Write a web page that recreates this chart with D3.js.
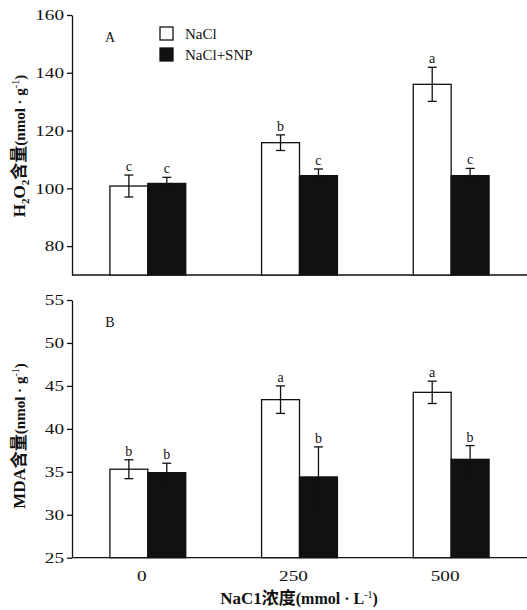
<!DOCTYPE html>
<html><head><meta charset="utf-8">
<script src="https://cdn.jsdelivr.net/npm/d3@7"></script>
<style>
body{margin:0;background:#fff;}
text{font-family:"Liberation Serif","DejaVu Serif",serif;fill:#111;}
</style></head>
<body><svg id="c" width="527" height="610"></svg>
<script>
const categories = ["0","250","500"];
const series = ["NaCl","NaCl+SNP"];
// Panel A: H2O2
const h2o2NaCl = [100.8, 115.8, 136.0];
const h2o2NaClErr = [3.8, 2.7, 5.9];
const h2o2SNP = [101.7, 104.4, 104.4];
const h2o2SNPErr = [2.1, 2.3, 2.5];
const h2o2NaClLetters = ["c","b","a"];
const h2o2SNPLetters = ["c","c","c"];
const h2o2Ticks = [80,100,120,140,160];
// Panel B: MDA
const mdaNaCl = [35.3, 43.4, 44.25];
const mdaNaClErr = [1.1, 1.6, 1.3];
const mdaSNP = [34.9, 34.4, 36.45];
const mdaSNPErr = [1.1, 3.5, 1.6];
const mdaNaClLetters = ["b","a","a"];
const mdaSNPLetters = ["b","b","b"];
const mdaTicks = [25,30,35,40,45,50,55];

const svg = d3.select("#c");
const x0 = d3.scaleBand().domain(categories).range([72,527]).paddingInner(0.5).paddingOuter(0.25);
const x1 = d3.scaleBand().domain(series).range([0, x0.bandwidth()]);

function panel(opts){
  const y = d3.scaleLinear().domain(opts.domain).range(opts.range);
  const g = svg.append("g");
  const ax = g.append("g").attr("transform","translate(72,0)")
    .call(d3.axisLeft(y).tickValues(opts.ticks).tickSize(5).tickPadding(3).tickSizeOuter(0));
  ax.select(".domain").attr("stroke","#111").attr("stroke-width",1.3);
  ax.selectAll(".tick line").attr("stroke","#111").attr("stroke-width",1.3);
  ax.selectAll(".tick text").attr("font-size",15).attr("fill","#111")
    .attr("font-family","Liberation Serif, serif")
    .each(function(d){ const s=String(d); d3.select(this).attr("textLength", s.length*9.6).attr("lengthAdjust","spacingAndGlyphs"); });
  g.append("line").attr("x1",72).attr("x2",527).attr("y1",y(opts.domain[0])).attr("y2",y(opts.domain[0]))
    .attr("stroke","#111").attr("stroke-width",1.3);
  const data = [];
  categories.forEach((c,i)=>{
    data.push({c, s:series[0], v:opts.a[i], e:opts.ae[i], l:opts.al[i]});
    data.push({c, s:series[1], v:opts.b[i], e:opts.be[i], l:opts.bl[i]});
  });
  const grp = g.selectAll("g.bar").data(data).enter().append("g")
    .attr("transform", d=>`translate(${x0(d.c)+x1(d.s)},0)`);
  const w = x1.bandwidth();
  const base = y(opts.domain[0]);
  grp.append("rect").attr("x",0).attr("width",w).attr("y",d=>y(d.v)).attr("height",d=>base-y(d.v))
    .attr("fill",d=>d.s===series[0]?"#fff":"#111").attr("stroke","#111").attr("stroke-width",1.3);
  grp.append("line").attr("x1",w/2).attr("x2",w/2).attr("y1",d=>y(d.v+d.e)).attr("y2",d=>y(d.v-d.e))
    .attr("stroke","#111").attr("stroke-width",1.3);
  grp.append("line").attr("x1",w/2-4.5).attr("x2",w/2+4.5).attr("y1",d=>y(d.v+d.e)).attr("y2",d=>y(d.v+d.e))
    .attr("stroke","#111").attr("stroke-width",1.3);
  grp.append("line").attr("x1",w/2-4.5).attr("x2",w/2+4.5).attr("y1",d=>y(d.v-d.e)).attr("y2",d=>y(d.v-d.e))
    .attr("stroke","#111").attr("stroke-width",1.3);
  grp.append("text").attr("x",w/2).attr("y",d=>y(d.v+d.e)-4).attr("text-anchor","middle")
    .attr("font-size",14).text(d=>d.l);
  g.append("text").attr("x",110).attr("y",opts.labelY).attr("text-anchor","middle").attr("font-size",14).text(opts.panel);
  const yl = g.append("text").attr("transform",`translate(25,${opts.ylabY}) rotate(-90)`).attr("text-anchor","middle")
    .attr("font-size",17).attr("font-weight","bold");
  opts.ylab(yl);
  return y;
}

function unitTail(t, unit){
  t.append("tspan").attr("font-size",15).text("(nmol · " + unit);
  t.append("tspan").attr("font-size",10).attr("font-weight","normal").attr("dy",-6).text("-1");
  t.append("tspan").attr("font-size",15).attr("dy",6).text(")");
}

panel({domain:[70,160], range:[275,15], ticks:h2o2Ticks, a:h2o2NaCl, ae:h2o2NaClErr, b:h2o2SNP, be:h2o2SNPErr,
  al:h2o2NaClLetters, bl:h2o2SNPLetters, panel:"A", labelY:42, ylabY:146,
  ylab:t=>{
    t.append("tspan").text("H");
    t.append("tspan").attr("font-size",11).attr("dy",4).text("2");
    t.append("tspan").attr("dy",-4).text("O");
    t.append("tspan").attr("font-size",11).attr("dy",4).text("2");
    t.append("tspan").attr("dy",-4).attr("font-family","Noto Sans CJK SC").text("含量");
    unitTail(t,"g");
  }});

panel({domain:[25,55], range:[557.7,300], ticks:mdaTicks, a:mdaNaCl, ae:mdaNaClErr, b:mdaSNP, be:mdaSNPErr,
  al:mdaNaClLetters, bl:mdaSNPLetters, panel:"B", labelY:327, ylabY:436,
  ylab:t=>{
    t.append("tspan").text("MDA");
    t.append("tspan").attr("font-family","Noto Sans CJK SC").text("含量");
    unitTail(t,"g");
  }});

svg.selectAll("text.xt").data(categories).enter().append("text")
  .attr("x",d=>x0(d)+x0.bandwidth()/2-6).attr("y",581).attr("text-anchor","middle").attr("font-size",15)
  .attr("textLength",d=>d.length*9.6).attr("lengthAdjust","spacingAndGlyphs").text(d=>d);

const xl = svg.append("text").attr("x",299).attr("y",604).attr("text-anchor","middle").attr("font-size",17).attr("font-weight","bold");
xl.append("tspan").text("NaC1");
xl.append("tspan").attr("font-family","Noto Sans CJK SC").text("浓度");
xl.append("tspan").attr("font-size",16).text("(mmol · L");
xl.append("tspan").attr("font-size",10).attr("font-weight","normal").attr("dy",-6).text("-1");
xl.append("tspan").attr("font-size",16).attr("dy",6).text(")");

const leg = svg.append("g");
series.forEach((s,i)=>{
  leg.append("rect").attr("x",160).attr("y",27+i*21).attr("width",13).attr("height",13)
    .attr("fill",i===0?"#fff":"#111").attr("stroke","#111").attr("stroke-width",1.3);
  leg.append("text").attr("x",185).attr("y",39+i*21).attr("font-size",15).text(s);
});
</script></body></html>
